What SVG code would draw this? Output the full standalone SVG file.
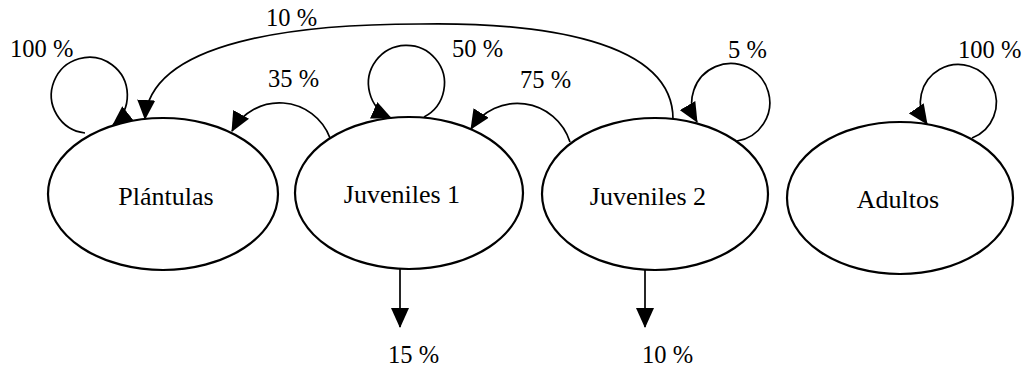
<svg xmlns="http://www.w3.org/2000/svg" width="1029" height="371" viewBox="0 0 1029 371">
<style>
.node{fill:none;stroke:#000;stroke-width:2.2}
text{font-family:'Liberation Serif','DejaVu Serif',serif;fill:#000}
.lbl{font-size:26px;text-anchor:middle}
.pct{font-size:24.5px}
.edge{fill:none;stroke:#000;stroke-width:1.7;marker-end:url(#ah)}
</style>
<defs>
<marker id="ah" viewBox="0 0 20 18" refX="19" refY="9" markerWidth="20" markerHeight="18" markerUnits="userSpaceOnUse" orient="auto">
<path d="M0,0 L20,9 L0,18 z" fill="#000"/>
</marker>
</defs>
<rect width="1029" height="371" fill="#fff"/>
<g id="plantulas">
<ellipse class="node" cx="163" cy="194" rx="115" ry="76"/>
<text class="lbl" x="166" y="205" font-family="Liberation Serif, serif">Plántulas</text>
</g>
<g id="juveniles1">
<ellipse class="node" cx="409" cy="193" rx="114" ry="76"/>
<text class="lbl" x="402" y="203" font-family="Liberation Serif, serif">Juveniles 1</text>
</g>
<g id="juveniles2">
<ellipse class="node" cx="655" cy="194" rx="113" ry="76"/>
<text class="lbl" x="648" y="205" font-family="Liberation Serif, serif">Juveniles 2</text>
</g>
<g id="adultos">
<ellipse class="node" cx="900" cy="198" rx="113" ry="76"/>
<text class="lbl" x="898" y="208" font-family="Liberation Serif, serif">Adultos</text>
</g>
<g id="connectors">
<path class="edge" d="M 85 133 A 38 38 0 1 1 113 125"/>
<path class="edge" d="M 424 117 A 38 38 0 1 0 391 118"/>
<path class="edge" d="M 737 141 A 39 39 0 1 0 697 122"/>
<path class="edge" d="M 972 138 A 38 38 0 1 0 927 124"/>
<path class="edge" d="M 330 138 A 54 54 0 0 0 232 131"/>
<path class="edge" d="M 570 142 A 55 55 0 0 0 471 129"/>
<path class="edge" d="M 673 119 C 673 40, 540 22, 420 24 C 300 24, 150 40, 145 119"/>
<path class="edge" d="M 400 269 L 400 327"/>
<path class="edge" d="M 645 270 L 645 327"/>
<text class="pct" x="10" y="57">100 %</text>
<text class="pct" x="266" y="26">10 %</text>
<text class="pct" x="268" y="87">35 %</text>
<text class="pct" x="452" y="57">50 %</text>
<text class="pct" x="520" y="88">75 %</text>
<text class="pct" x="728" y="58">5 %</text>
<text class="pct" x="958" y="58">100 %</text>
<text class="pct" x="388" y="363">15 %</text>
<text class="pct" x="642" y="363">10 %</text>
</g>
</svg>
